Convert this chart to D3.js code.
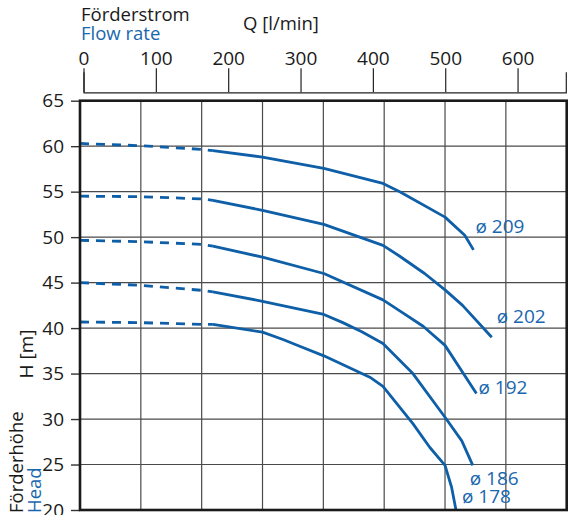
<!DOCTYPE html>
<html>
<head>
<meta charset="utf-8">
<script src="https://cdn.jsdelivr.net/npm/d3@7"></script>
<style>
  body { margin: 0; background: #fff; }
  svg { display: block; font-family: "Open Sans", sans-serif; }
</style>
</head>
<body>
<svg id="vis" width="568" height="515"></svg>
<script>
// Q in l/min, H in m
var curveNames = ["ø 209", "ø 202", "ø 192", "ø 186", "ø 178"];

var dashed209 = [[0, 60.3], [83, 60.05], [167, 59.65], [182, 59.5]];
var solid209 = [[182, 59.5], [250, 58.8], [334, 57.55], [415, 55.9], [438, 55.0], [500, 52.2], [527, 50.2], [539, 48.6]];

var dashed202 = [[0, 54.5], [83, 54.45], [167, 54.2], [182, 54.05]];
var solid202 = [[182, 54.05], [250, 52.95], [334, 51.4], [415, 49.1], [438, 47.9], [472, 46.0], [500, 44.2], [524, 42.5], [564, 39.0]];

var dashed192 = [[0, 49.65], [83, 49.5], [167, 49.2], [182, 49.0]];
var solid192 = [[182, 49.0], [250, 47.8], [334, 46.0], [415, 43.1], [438, 41.9], [470, 40.2], [500, 38.1], [543, 32.8]];

var dashed186 = [[0, 45.0], [83, 44.7], [167, 44.15], [182, 43.97]];
var solid186 = [[182, 43.97], [250, 42.95], [334, 41.5], [360, 40.6], [386, 39.6], [415, 38.3], [456, 35.0], [500, 30.2], [523, 27.6], [538, 24.9]];

var dashed178 = [[0, 40.67], [83, 40.6], [167, 40.4], [182, 40.4]];
var solid178 = [[182, 40.4], [250, 39.55], [278, 38.75], [301, 38.0], [334, 36.95], [397, 34.6], [415, 33.6], [456, 29.5], [479, 26.9], [500, 24.9], [509, 22.5], [515, 20.0]];

var flowTicks = [0, 100, 200, 300, 400, 500, 600];
var headTicks = [20, 25, 30, 35, 40, 45, 50, 55, 60, 65];
var qMax = 666.67;   // 40 m³/h
var gridStep = 83.333; // 5 m³/h

var blue = "#0e5fa7";
var textBlue = "#1867ae";

var curves = [
    {name: curveNames[0], dashed: dashed209, solid: solid209, dx: 2, dy: -17},
    {name: curveNames[1], dashed: dashed202, solid: solid202, dx: 5, dy: -14},
    {name: curveNames[2], dashed: dashed192, solid: solid192, dx: 2, dy: 0},
    {name: curveNames[3], dashed: dashed186, solid: solid186, dx: -3, dy: 20},
    {name: curveNames[4], dashed: dashed178, solid: solid178, dx: 6, dy: -7}
];

var svg = d3.select("#vis");

var plot = {left: 80, right: 566.7, top: 100.7, bottom: 510};

var x = d3.scaleLinear().domain([0, qMax]).range([plot.left, plot.right]);
var xTop = d3.scaleLinear().domain([0, qMax]).range([83.5, 565.8]);
var y = d3.scaleLinear().domain([20, 65]).range([plot.bottom, plot.top]);

// grid
var gridX = d3.range(1, 8).map(function(i) { return i * gridStep; });
svg.append("g").selectAll("line")
    .data(gridX)
    .enter()
    .append("line")
    .attr("x1", d => x(d)).attr("x2", d => x(d))
    .attr("y1", plot.top).attr("y2", plot.bottom)
    .attr("stroke", "#4a4a4a")
    .attr("stroke-width", 1.2);

svg.append("g").selectAll("line")
    .data(headTicks.filter(d => d > 20 && d < 65))
    .enter()
    .append("line")
    .attr("x1", plot.left).attr("x2", plot.right)
    .attr("y1", d => y(d)).attr("y2", d => y(d))
    .attr("stroke", "#4a4a4a")
    .attr("stroke-width", 1.2);

// left axis
var yAxis = d3.axisLeft(y)
    .tickValues(headTicks)
    .tickSize(9)
    .tickPadding(7);

var yG = svg.append("g")
    .attr("transform", "translate(" + plot.left + ",0)")
    .call(yAxis);
yG.select(".domain").remove();
yG.selectAll(".tick line").attr("stroke", "#333").attr("stroke-width", 1.4);
yG.selectAll(".tick text")
    .attr("fill", "#1a1a1a")
    .style("font-size", "19px")
    .style("font-family", "Open Sans, sans-serif");

// top flow axis
var xAxis = d3.axisTop(xTop)
    .tickValues(flowTicks)
    .tickSize(24)
    .tickSizeOuter(20)
    .tickPadding(3);

var xG = svg.append("g")
    .attr("transform", "translate(0,92.3)")
    .call(xAxis);
xG.selectAll("path, line").attr("stroke", "#222").attr("stroke-width", 1.2);
xG.selectAll(".tick text")
    .attr("fill", "#1a1a1a")
    .style("font-size", "19px")
    .style("font-family", "Open Sans, sans-serif");

// curves
var line = d3.line()
    .x(d => x(d[0]))
    .y(d => y(d[1]));

var cg = svg.append("g");
cg.selectAll(".dash")
    .data(curves)
    .enter()
    .append("path")
    .attr("d", d => line(d.dashed))
    .attr("fill", "none")
    .attr("stroke", blue)
    .attr("stroke-width", 2.8)
    .attr("stroke-dasharray", "9,7");

cg.selectAll(".solid")
    .data(curves)
    .enter()
    .append("path")
    .attr("d", d => line(d.solid))
    .attr("fill", "none")
    .attr("stroke", blue)
    .attr("stroke-width", 2.8)
    .attr("stroke-linejoin", "round");

cg.selectAll("text")
    .data(curves)
    .enter()
    .append("text")
    .attr("x", d => x(d.solid[d.solid.length - 1][0]) + d.dx)
    .attr("y", d => y(d.solid[d.solid.length - 1][1]) + d.dy)
    .attr("fill", textBlue)
    .style("font-size", "19px")
    .text(d => d.name);

// frame
svg.append("rect")
    .attr("x", plot.left)
    .attr("y", plot.top)
    .attr("width", plot.right - plot.left)
    .attr("height", plot.bottom - plot.top)
    .attr("fill", "none")
    .attr("stroke", "#1a1a1a")
    .attr("stroke-width", 2.6);

// titles
svg.append("text").attr("x", 81).attr("y", 21)
    .attr("fill", "#1a1a1a").style("font-size", "18.5px").text("Förderstrom");
svg.append("text").attr("x", 81).attr("y", 40)
    .attr("fill", textBlue).style("font-size", "18.5px").text("Flow rate");
svg.append("text").attr("x", 243).attr("y", 30)
    .attr("fill", "#1a1a1a").style("font-size", "18.5px").text("Q [l/min]");

svg.append("text")
    .attr("transform", "translate(32.5,354) rotate(-90)")
    .attr("text-anchor", "middle")
    .attr("fill", "#1a1a1a").style("font-size", "19px").text("H [m]");
svg.append("text")
    .attr("transform", "translate(22.5,513) rotate(-90)")
    .attr("fill", "#1a1a1a").style("font-size", "18.5px").text("Förderhöhe");
svg.append("text")
    .attr("transform", "translate(41,513) rotate(-90)")
    .attr("fill", textBlue).style("font-size", "18.5px").text("Head");
</script>
</body>
</html>
